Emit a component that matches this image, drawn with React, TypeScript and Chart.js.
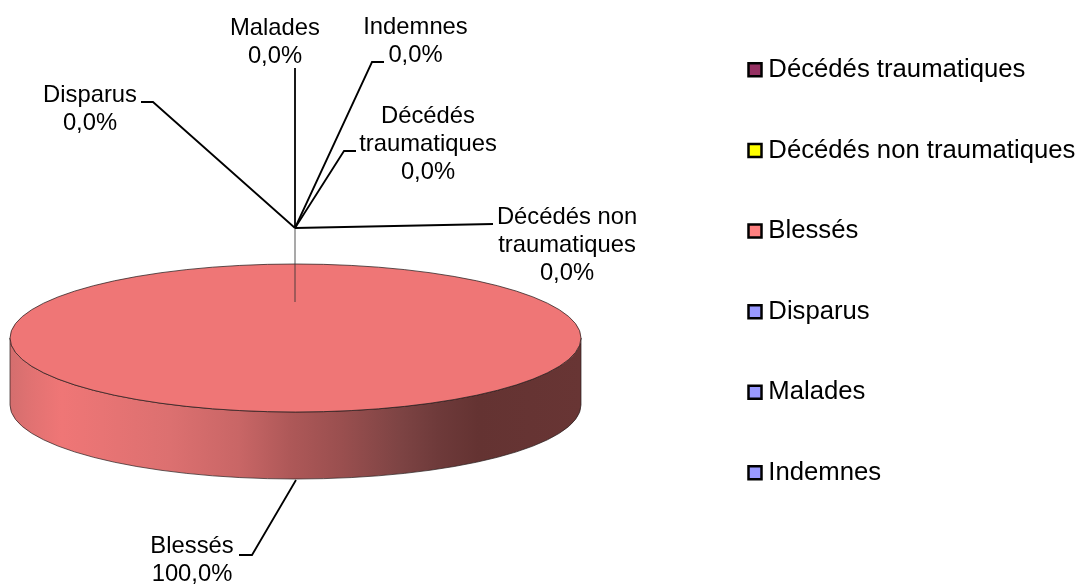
import React, { useEffect, useRef } from "react";
import { Chart, registerables } from "chart.js";

Chart.register(...registerables);

const categories = [
  "Décédés traumatiques",
  "Décédés non traumatiques",
  "Blessés",
  "Disparus",
  "Malades",
  "Indemnes",
];
const seriesValues = [0, 0, 100, 0, 0, 0];
const sliceColors = ["#953062", "#FFFF00", "#FF8080", "#9999FF", "#9999FF", "#9999FF"];
const topColors = ["#953062", "#FFFF00", "#EF7676", "#9999FF", "#9999FF", "#9999FF"];

const FONT = '"Liberation Sans", Arial, sans-serif';
const VIEW = { left: 10, right: 581, top: 7, bottom: 578, cx: 295.5, cy: 338, ry: 74, depth: 67 };
const LEGEND_VIEW = { boxCenter: 755, top: 2.1, font: 25.7, padding: 54.9 };
const LABEL_FONT = 23.8;
const LINE_STEP = 28;

const labelLayout = [
  { lines: ["Décédés", "traumatiques"], x: 428, y: 116, leader: [[295, 228], [344, 151], [356, 151]] },
  { lines: ["Décédés non", "traumatiques"], x: 567, y: 217, leader: [[295, 228], [493, 224]] },
  { lines: ["Blessés"], x: 192, y: 546.5, leader: [[296, 480], [252, 555], [239, 555]] },
  { lines: ["Disparus"], x: 90, y: 95, leader: [[295, 228], [153, 102], [141, 102]] },
  { lines: ["Malades"], x: 275, y: 28, leader: [[295, 228], [295, 68]] },
  { lines: ["Indemnes"], x: 415.5, y: 27, leader: [[295, 228], [372, 62], [384, 62]] },
];

const wallStops: [number, string][] = [
  [0, "#D46E6E"],
  [0.04, "#E27272"],
  [0.09, "#EF7676"],
  [0.16, "#E87474"],
  [0.28, "#DC7070"],
  [0.40, "#C96666"],
  [0.49, "#AE5858"],
  [0.58, "#9A4F4F"],
  [0.68, "#7E4444"],
  [0.75, "#6E3A3A"],
  [0.82, "#643332"],
  [1, "#683534"],
];

const percent = (v: number) => {
  const total = seriesValues.reduce((a, b) => a + b, 0);
  return `${((v / total) * 100).toFixed(1).replace(".", ",")}%`;
};

const piePlugin = {
  id: "pie3d",
  afterLayout(chart: any) {
    const a = chart.chartArea;
    a.left = VIEW.left;
    a.right = VIEW.right;
    a.top = VIEW.top;
    a.bottom = VIEW.bottom;
    a.width = VIEW.right - VIEW.left;
    a.height = VIEW.bottom - VIEW.top;
    chart.legend.left = LEGEND_VIEW.boxCenter - 0.5 - LEGEND_VIEW.padding;
    chart.legend.top = LEGEND_VIEW.top;
  },
  beforeDatasetDraw(chart: any) {
    const ctx = chart.ctx;
    const arc = chart.getDatasetMeta(0).data[2];
    const r = arc.outerRadius;
    const { cx, cy, ry, depth } = VIEW;
    // side wall
    ctx.save();
    const g = ctx.createLinearGradient(cx - r, 0, cx + r, 0);
    wallStops.forEach(([p, c]) => g.addColorStop(p, c));
    ctx.beginPath();
    ctx.moveTo(cx - r, cy);
    ctx.lineTo(cx - r, cy + depth);
    ctx.ellipse(cx, cy + depth, r, ry, 0, Math.PI, 0, true);
    ctx.lineTo(cx + r, cy);
    ctx.ellipse(cx, cy, r, ry, 0, 0, Math.PI, false);
    ctx.closePath();
    ctx.fillStyle = g;
    ctx.fill();
    ctx.strokeStyle = "rgba(40,30,30,0.7)";
    ctx.lineWidth = 1;
    ctx.stroke();
    ctx.restore();
    // flatten the pie to the tilted ellipse
    ctx.save();
    ctx.translate(0, cy);
    ctx.scale(1, ry / r);
    ctx.translate(0, -arc.y);
  },
  afterDatasetDraw(chart: any) {
    const ctx = chart.ctx;
    ctx.restore();
    const r = chart.getDatasetMeta(0).data[2].outerRadius;
    ctx.save();
    ctx.beginPath();
    ctx.ellipse(VIEW.cx, VIEW.cy, r, VIEW.ry, 0, 0, Math.PI * 2);
    ctx.strokeStyle = "rgba(40,30,30,0.75)";
    ctx.lineWidth = 1;
    ctx.stroke();
    ctx.restore();
  },
  afterDatasetsDraw(chart: any) {
    const ctx = chart.ctx;
    ctx.save();
    // part of the Malades leader that passes in front of the pie
    ctx.strokeStyle = "rgba(50,50,50,0.42)";
    ctx.lineWidth = 2;
    ctx.beginPath();
    ctx.moveTo(295, 228);
    ctx.lineTo(295, 302);
    ctx.stroke();

    ctx.strokeStyle = "#000";
    ctx.lineWidth = 1.8;
    ctx.lineJoin = "miter";
    labelLayout.forEach((l) => {
      ctx.beginPath();
      l.leader.forEach(([x, y], i) => (i ? ctx.lineTo(x, y) : ctx.moveTo(x, y)));
      ctx.stroke();
    });

    ctx.fillStyle = "#000";
    ctx.font = `${LABEL_FONT}px ${FONT}`;
    ctx.textAlign = "center";
    ctx.textBaseline = "middle";
    labelLayout.forEach((l, i) => {
      const lines = [...l.lines, percent(seriesValues[i])];
      lines.forEach((t, k) => ctx.fillText(t, l.x, l.y + k * LINE_STEP));
    });
    ctx.restore();
  },
};

export default function App() {
  const ref = useRef<HTMLCanvasElement>(null);
  useEffect(() => {
    document.body.style.margin = "0";
    const chart = new Chart(ref.current as HTMLCanvasElement, {
      type: "pie",
      data: {
        labels: categories,
        datasets: [
          {
            data: seriesValues,
            backgroundColor: topColors,
            borderWidth: 0,
            clip: false,
          } as any,
        ],
      },
      options: {
        responsive: false,
        animation: false,
        rotation: 0,
        plugins: {
          tooltip: { enabled: false },
          title: { display: false },
          legend: {
            display: true,
            position: "right",
            align: "start",
            labels: {
              color: "#000",
              font: { family: FONT, size: LEGEND_VIEW.font },
              usePointStyle: true,
              boxWidth: 1,
              boxHeight: 13,
              padding: LEGEND_VIEW.padding,
              generateLabels: () =>
                categories.map((text, i) => ({
                  text,
                  index: i,
                  fillStyle: sliceColors[i],
                  strokeStyle: "#000",
                  lineWidth: 2.5,
                  pointStyle: "rect",
                  hidden: false,
                  fontColor: "#000",
                })),
            },
          },
        },
      } as any,
      plugins: [piePlugin as any],
    });
    return () => chart.destroy();
  }, []);
  return (
    <div style={{ width: 1077, height: 585 }}>
      <canvas ref={ref} width={1077} height={585} style={{ display: "block" }} />
    </div>
  );
}
